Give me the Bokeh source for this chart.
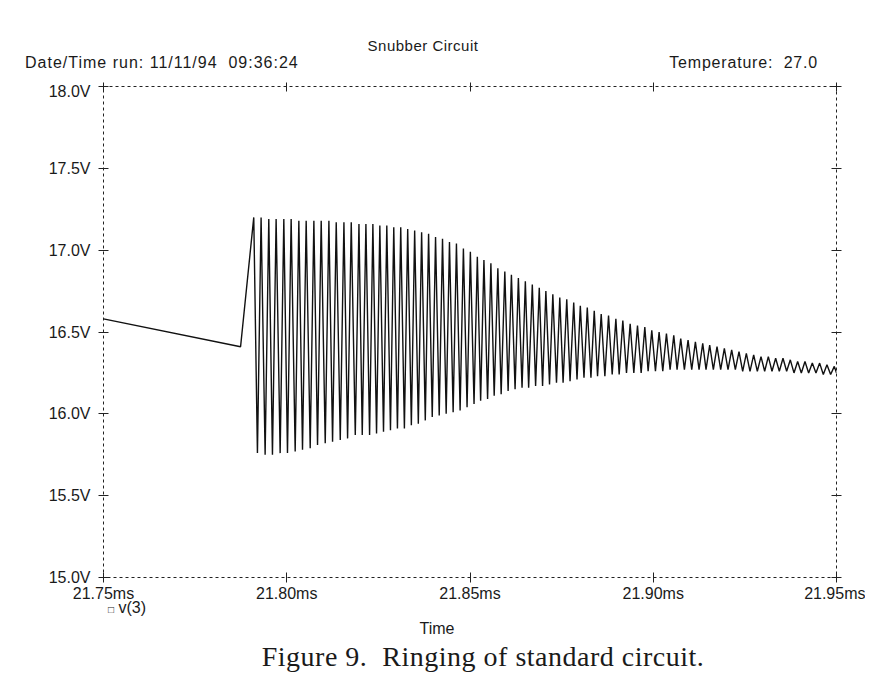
from bokeh.plotting import figure
from bokeh.models import Range1d, FixedTicker, LinearAxis, Div
from bokeh.layouts import column
from bokeh.embed import file_html
from bokeh.resources import INLINE

# ---------------- data ----------------
x_ticks = [21.75, 21.80, 21.85, 21.90, 21.95]
x_tick_labels = ["21.75ms", "21.80ms", "21.85ms", "21.90ms", "21.95ms"]
y_ticks = [15.0, 15.5, 16.0, 16.5, 17.0, 17.5, 18.0]
y_tick_labels = ["15.0V", "15.5V", "16.0V", "16.5V", "17.0V", "17.5V", "18.0V"]

# slow ramp before the switching event
pre_time_ms = [21.7500, 21.7874]
pre_volts = [16.58, 16.41]

# ringing: positive peaks
peak_time_ms = [
    21.7910, 21.7930, 21.7951, 21.7971, 21.7992, 21.8012, 21.8033, 21.8053,
    21.8074, 21.8094, 21.8115, 21.8135, 21.8156, 21.8176, 21.8197, 21.8216,
    21.8235, 21.8254, 21.8273, 21.8292, 21.8311, 21.8330, 21.8349, 21.8368,
    21.8387, 21.8406, 21.8425, 21.8444, 21.8463, 21.8482, 21.8501, 21.8520,
    21.8538, 21.8557, 21.8576, 21.8595, 21.8613, 21.8632, 21.8651, 21.8670,
    21.8689, 21.8707, 21.8726, 21.8745, 21.8764, 21.8783, 21.8801, 21.8820,
    21.8839, 21.8858, 21.8878, 21.8898, 21.8917, 21.8937, 21.8957, 21.8977,
    21.8996, 21.9016, 21.9036, 21.9056, 21.9075, 21.9095, 21.9115, 21.9135,
    21.9154, 21.9174, 21.9194, 21.9214, 21.9234, 21.9254, 21.9274, 21.9294,
    21.9314, 21.9334, 21.9354, 21.9374, 21.9394, 21.9414, 21.9434, 21.9454,
    21.9474, 21.9494,
]
peak_volts = [
    17.20, 17.20, 17.19, 17.19, 17.19, 17.19, 17.18, 17.18,
    17.18, 17.18, 17.18, 17.17, 17.17, 17.17, 17.16, 17.16,
    17.16, 17.15, 17.15, 17.14, 17.14, 17.13, 17.12, 17.11,
    17.10, 17.08, 17.07, 17.05, 17.04, 17.01, 16.99, 16.96,
    16.94, 16.92, 16.89, 16.87, 16.85, 16.83, 16.81, 16.79,
    16.77, 16.75, 16.73, 16.71, 16.70, 16.68, 16.66, 16.65,
    16.63, 16.61, 16.60, 16.58, 16.57, 16.55, 16.54, 16.53,
    16.51, 16.50, 16.49, 16.48, 16.46, 16.45, 16.44, 16.43,
    16.42, 16.41, 16.40, 16.39, 16.38, 16.37, 16.36, 16.35,
    16.35, 16.34, 16.34, 16.33, 16.32, 16.32, 16.31, 16.31,
    16.30, 16.29,
]

# ringing: negative troughs
trough_time_ms = [
    21.7920, 21.7941, 21.7961, 21.7982, 21.8002, 21.8023, 21.8043, 21.8064,
    21.8084, 21.8105, 21.8125, 21.8146, 21.8166, 21.8187, 21.8206, 21.8226,
    21.8245, 21.8264, 21.8283, 21.8302, 21.8321, 21.8340, 21.8359, 21.8378,
    21.8397, 21.8416, 21.8435, 21.8454, 21.8473, 21.8492, 21.8511, 21.8529,
    21.8548, 21.8566, 21.8585, 21.8604, 21.8623, 21.8642, 21.8660, 21.8679,
    21.8698, 21.8717, 21.8736, 21.8754, 21.8773, 21.8792, 21.8811, 21.8830,
    21.8848, 21.8868, 21.8888, 21.8907, 21.8927, 21.8947, 21.8967, 21.8986,
    21.9006, 21.9026, 21.9046, 21.9065, 21.9085, 21.9105, 21.9125, 21.9144,
    21.9164, 21.9184, 21.9204, 21.9224, 21.9244, 21.9264, 21.9284, 21.9304,
    21.9324, 21.9344, 21.9364, 21.9384, 21.9404, 21.9424, 21.9444, 21.9464,
    21.9484,
]
trough_volts = [
    15.76, 15.75, 15.75, 15.76, 15.76, 15.77, 15.78, 15.79,
    15.81, 15.82, 15.83, 15.84, 15.85, 15.87, 15.87, 15.87,
    15.88, 15.89, 15.90, 15.91, 15.91, 15.93, 15.94, 15.96,
    15.98, 15.99, 16.00, 16.01, 16.02, 16.04, 16.06, 16.08,
    16.09, 16.11, 16.12, 16.14, 16.15, 16.16, 16.16, 16.17,
    16.17, 16.18, 16.19, 16.19, 16.20, 16.21, 16.22, 16.22,
    16.23, 16.23, 16.24, 16.24, 16.25, 16.25, 16.25, 16.26,
    16.26, 16.26, 16.27, 16.27, 16.27, 16.27, 16.27, 16.27,
    16.27, 16.27, 16.27, 16.27, 16.26, 16.26, 16.26, 16.26,
    16.26, 16.26, 16.26, 16.25, 16.25, 16.25, 16.25, 16.24,
    16.24,
]

end_time_ms = [21.9500]
end_volts = [16.25]

# ---------------- build the trace ----------------
trace_t = list(pre_time_ms)
trace_v = list(pre_volts)
for i in range(len(peak_time_ms)):
    trace_t.append(peak_time_ms[i]); trace_v.append(peak_volts[i])
    if i < len(trough_time_ms):
        trace_t.append(trough_time_ms[i]); trace_v.append(trough_volts[i])
trace_t += end_time_ms
trace_v += end_volts

# ---------------- layout constants (page px) ----------------
W = 865
HEADER_H = 72
TOP_BORDER = 4
FRAME_H = 491
BOTTOM_BORDER = 27
PL, PR = 103, 836
FIG_H = TOP_BORDER + FRAME_H + BOTTOM_BORDER
FOOT_H = 70
DX, DY = 5, 4          # observed inner offset of Div content

FONT = "Liberation Sans"
INK = "#1a1a1a"

# ---------------- header ----------------
header = Div(width=W, height=HEADER_H, text=f"""
<div style="position:relative;width:{W}px;height:{HEADER_H}px;font-family:'{FONT}',Arial,sans-serif;color:{INK};white-space:pre;">
<span style="position:absolute;left:{323 - DX}px;width:200px;top:{36 - DY}px;line-height:18px;text-align:center;font-size:15px;letter-spacing:0.5px;">Snubber Circuit</span>
<span style="position:absolute;left:{25 - DX}px;top:{53 - DY}px;line-height:18px;font-size:16px;letter-spacing:1px;">Date/Time run: 11/11/94  09:36:24</span>
<span style="position:absolute;right:{W + DX - 818}px;top:{53 - DY}px;line-height:18px;font-size:16px;letter-spacing:0.8px;">Temperature:  27.0</span>
</div>""")

# ---------------- plot ----------------
X0, X1 = x_ticks[0], x_ticks[-1]
Y0, Y1 = y_ticks[0], y_ticks[-1]

p = figure(width=W, height=FIG_H, title=None,
           x_range=Range1d(X0, X1), y_range=Range1d(Y0, Y1),
           output_backend="svg", toolbar_location=None,
           x_axis_location=None, y_axis_location=None,
           min_border_left=PL, min_border_right=W - PR,
           min_border_top=TOP_BORDER, min_border_bottom=BOTTOM_BORDER)
p.grid.visible = False
p.background_fill_color = "white"
p.border_fill_color = "white"
p.outline_line_color = "#222222"
p.outline_line_width = 1
p.outline_line_dash = "3 3"


def make_axis(ticks, labels, show):
    ax = LinearAxis(ticker=FixedTicker(ticks=ticks))
    ax.axis_line_color = None
    ax.major_tick_in = 5
    ax.major_tick_out = 5
    ax.major_tick_line_color = "#222222"
    ax.minor_tick_line_color = None
    ax.major_label_text_font = FONT
    ax.major_label_text_color = INK
    if show:
        ax.major_label_overrides = dict(zip(ticks, labels))
        ax.major_label_text_font_size = "16px"
    else:
        ax.major_label_overrides = {t: "" for t in ticks}
        ax.major_label_text_font_size = "0px"
        ax.major_label_standoff = 0
    return ax


bottom = make_axis(x_ticks, x_tick_labels, True)
bottom.major_label_standoff = 2
left = make_axis(y_ticks, y_tick_labels, True)
left.major_label_standoff = 8
top = make_axis(x_ticks, x_tick_labels, False)
top.major_tick_out = TOP_BORDER
p.add_layout(bottom, "below")
p.add_layout(left, "left")
p.add_layout(top, "above")
p.add_layout(make_axis(y_ticks, y_tick_labels, False), "right")

p.line(trace_t, trace_v, line_color="#111111", line_width=1.4)

# ---------------- footer (page y of its top is about 604) ----------------
FOOT_TOP = HEADER_H + 10 + FIG_H
footer = Div(width=W, height=FOOT_H, text=f"""
<div style="position:relative;width:{W}px;height:{FOOT_H}px;font-family:'{FONT}',Arial,sans-serif;color:{INK};white-space:pre;">
<span style="position:absolute;left:{108 - DX}px;top:{607 - FOOT_TOP - DY - 8}px;line-height:16px;font-size:16px;"><span style="font-size:10px;">&#9633;</span> v(3)</span>
<span style="position:absolute;left:{387 - DX}px;width:100px;top:{628 - FOOT_TOP - DY - 9}px;line-height:18px;text-align:center;font-size:16px;">Time</span>
<span style="position:absolute;left:{133 - DX}px;width:700px;top:{656 - FOOT_TOP - DY - 16}px;line-height:32px;text-align:center;font-size:28px;letter-spacing:0.5px;font-family:'Liberation Serif','Times New Roman',serif;">Figure 9.  Ringing of standard circuit.</span>
</div>""")

layout = column(header, p, footer, spacing=0)
open("out.html", "w").write(file_html(layout, INLINE))
